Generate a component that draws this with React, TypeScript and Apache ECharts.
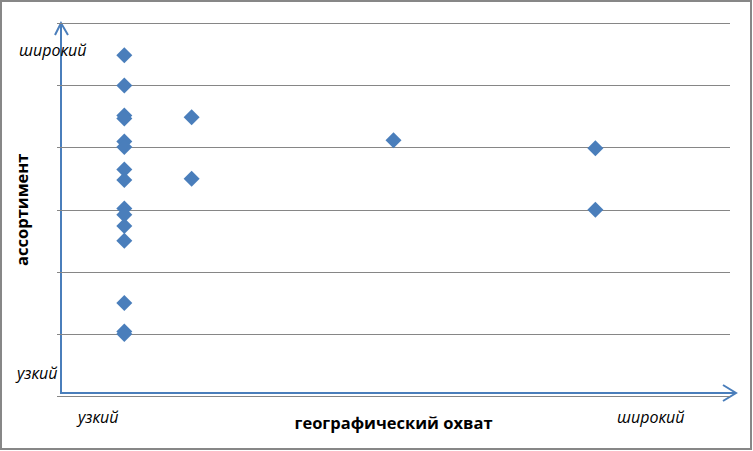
import React, { useEffect, useRef } from "react";
import * as echarts from "echarts";

// geographic coverage (x) and assortment (y) for each enterprise
const geoCoverage = [1, 1, 1, 1, 1, 1, 1, 1, 1, 1, 1, 1, 1, 1, 1, 2, 2, 5, 8, 8];
const assortment = [5.49, 5.0, 4.52, 4.47, 4.1, 4.01, 3.65, 3.48, 3.02, 2.92, 2.74, 2.5, 1.5, 1.04, 1.0, 4.49, 3.5, 4.12, 3.99, 3.0];

const xAxisTitle = "географический охват";
const yAxisTitle = "ассортимент";
const lowLabel = "узкий";
const highLabel = "широкий";

const BLUE = "#4a7ebb";

export default function App() {
  const ref = useRef<HTMLDivElement>(null);
  useEffect(() => {
    document.body.style.margin = "0";
    const chart = echarts.init(ref.current!, null, { renderer: "svg" });
    const points = geoCoverage.map((x, i) => [x, assortment[i]]);
    const italic = { fontFamily: "Open Sans", fontStyle: "italic", fontSize: 16, fill: "#000" };
    chart.setOption({
      animation: false,
      backgroundColor: "#fff",
      grid: { left: 57, right: 23, top: 23.5, bottom: 55 },
      xAxis: {
        type: "value",
        min: 0,
        max: 10,
        axisLine: { show: false },
        axisTick: { show: false },
        axisLabel: { show: false },
        splitLine: { show: false },
        name: xAxisTitle,
        nameLocation: "middle",
        nameGap: 18,
        nameTextStyle: { fontFamily: "Open Sans", fontWeight: "bold", fontSize: 16.5, color: "#000", verticalAlign: "top" },
      },
      yAxis: {
        type: "value",
        min: 0,
        max: 6,
        interval: 1,
        axisLine: { show: false },
        axisTick: { show: false },
        axisLabel: { show: false },
        splitLine: { show: true, lineStyle: { color: "#868686", width: 1 } },
        name: yAxisTitle,
        nameLocation: "middle",
        nameGap: 27,
        nameRotate: 90,
        nameTextStyle: { fontFamily: "Open Sans", fontWeight: "bold", fontSize: 16.5, color: "#000" },
      },
      graphic: [
        { type: "rect", shape: { x: 1, y: 1, width: 750, height: 448 }, style: { fill: "none", stroke: "#878787", lineWidth: 2 }, silent: true },
        { type: "line", shape: { x1: 61, y1: 393, x2: 61, y2: 23 }, style: { stroke: BLUE, lineWidth: 2 } },
        { type: "polyline", shape: { points: [[55, 35], [61, 23], [68, 35]] }, style: { stroke: BLUE, lineWidth: 2, fill: "none" } },
        { type: "line", shape: { x1: 60, y1: 393, x2: 736, y2: 393 }, style: { stroke: BLUE, lineWidth: 2 } },
        { type: "polyline", shape: { points: [[723, 385], [736, 393], [723, 401]] }, style: { stroke: BLUE, lineWidth: 2, fill: "none" } },
        { type: "text", x: 19, y: 50, style: { ...italic, text: highLabel, verticalAlign: "middle" } },
        { type: "text", x: 17, y: 373, style: { ...italic, text: lowLabel, verticalAlign: "middle" } },
        { type: "text", x: 78, y: 417, style: { ...italic, text: lowLabel, verticalAlign: "middle" } },
        { type: "text", x: 617, y: 417, style: { ...italic, text: highLabel, verticalAlign: "middle" } },
      ],
      series: [
        {
          type: "scatter",
          data: points,
          symbol: "diamond",
          symbolSize: 16,
          itemStyle: { color: BLUE, opacity: 1 },
          z: 5,
        },
      ],
    });
    return () => chart.dispose();
  }, []);
  return <div ref={ref} style={{ width: 753, height: 451 }} />;
}
